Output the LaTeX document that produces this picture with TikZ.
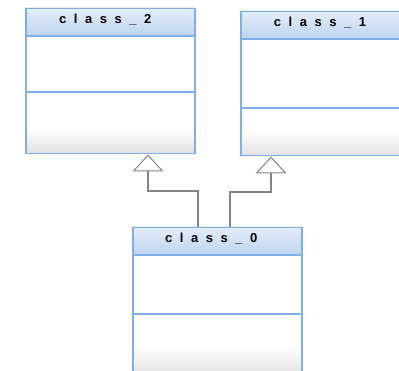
\documentclass[tikz,border=0pt]{standalone}
\usepackage{fontspec}
\newfontfamily\umlfont{Liberation Sans Bold}[LetterSpace=58]
\usetikzlibrary{arrows.meta,calc}
\definecolor{umlborder}{HTML}{80AEE6}
\definecolor{headtop}{HTML}{E4EEFA}
\definecolor{headbot}{HTML}{BDD3EF}
\definecolor{footgray}{HTML}{E2E2E2}
\definecolor{linkgray}{HTML}{858585}
\begin{document}
\begin{tikzpicture}[x=1pt,y=-1pt,
  classbox/.style={draw=umlborder, line width=1.5pt, rectangle, anchor=north west, inner sep=0pt, minimum width=169pt},
  sepline/.style={draw=umlborder, line width=1.2pt},
  headshade/.style={top color=headtop, bottom color=headbot},
  footshade/.style={top color=white, bottom color=footgray},
  umltitle/.style={font=\umlfont\fontsize{13}{14}\selectfont, inner sep=0pt, anchor=center},
  inh/.style={draw=linkgray, line width=1.3pt, -{Triangle[open, length=17pt, width=31pt, line width=1pt]}}
]
\useasboundingbox (0,0) rectangle (399,371);
\clip (0,0) rectangle (399,371);
\fill[white] (0,0) rectangle (399,371);

% class_2
\shade[headshade] (25,8) rectangle (194,36);
\shade[footshade] (25,128) rectangle (194,153);
\node[classbox, minimum height=145pt] (c2) at (25,8) {};
\draw[sepline] ($(c2.north west)+(0,28)$) -- ($(c2.north east)+(0,28)$);
\draw[sepline] ($(c2.north west)+(0,84)$) -- ($(c2.north east)+(0,84)$);
\node[umltitle] (t2) at ($(c2.north)+(-5,12)$) {class\_2};

% class_1
\shade[headshade] (240,11) rectangle (409,39);
\shade[footshade] (240,130) rectangle (409,155);
\node[classbox, minimum height=144pt] (c1) at (240,11) {};
\draw[sepline] ($(c1.north west)+(0,28)$) -- ($(c1.north east)+(0,28)$);
\draw[sepline] ($(c1.north west)+(0,97)$) -- ($(c1.north east)+(0,97)$);
\node[umltitle] (t1) at ($(c1.north west)+(80,12)$) {class\_1};

% class_0
\shade[headshade] (132,227) rectangle (301,255);
\shade[footshade] (132,345) rectangle (301,376);
\node[classbox, minimum height=151pt] (c0) at (132,227) {};
\draw[sepline] ($(c0.north west)+(0,28)$) -- ($(c0.north east)+(0,28)$);
\draw[sepline] ($(c0.north west)+(0,87)$) -- ($(c0.north east)+(0,87)$);
\node[umltitle] (t0) at ($(c0.north)+(-6,12)$) {class\_0};

% inheritance
\draw[inh] ($(c0.north west)+(66,0)$) -- ++(0,-36) -| ($(c2.south west)+(123,0)$);
\draw[inh] ($(c0.north west)+(98,0)$) -- ++(0,-35) -| ($(c1.south west)+(31,0)$);
\end{tikzpicture}
\end{document}
